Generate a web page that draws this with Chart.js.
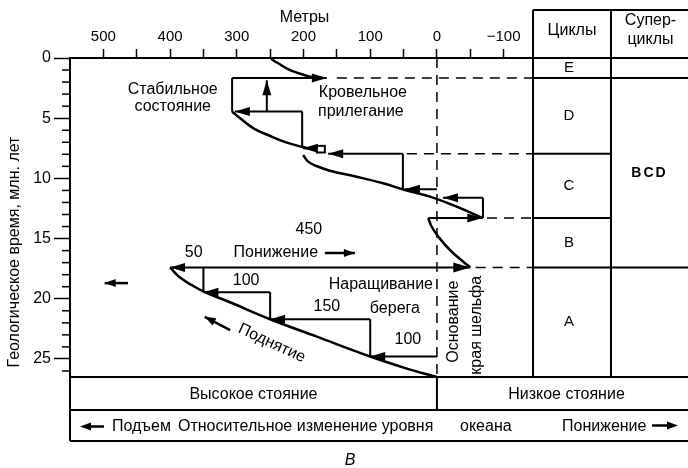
<!DOCTYPE html>
<html>
<head>
<meta charset="utf-8">
<script src="https://cdn.jsdelivr.net/npm/chart.js@4.4.1/dist/chart.umd.min.js"></script>
<style>
  html, body { margin: 0; padding: 0; background: #fff; }
  canvas { display: block; }
</style>
</head>
<body>
<canvas id="c" width="688" height="468"></canvas>
<script>
const FONT = "'Liberation Sans', Arial, Helvetica, sans-serif";

// Axes: depth in metres (top), geological time in Myr (left)
const depthTicks = [500, 450, 400, 350, 300, 250, 200, 150, 100, 50, 0, -50, -100];
const timeTicks = [0, 1, 2, 3, 4, 5, 6, 7, 8, 9, 10, 11, 12, 13, 14, 15, 16, 17, 18, 19, 20, 21, 22, 23, 24, 25, 26];
const depthRange = [-144, 550];
const timeRange = [0, 26.5];

// Cycles and supercycles (Myr boundaries)
const cycleNames = ['E', 'D', 'C', 'B', 'A'];
const cycleBounds = [0, 1.66, 7.95, 13.3, 17.4, 26.5];
const superNames = ['', 'BCD', ''];
const superBounds = [0, 1.66, 17.4, 26.5];

// Shoreline curves: [metres, Myr]
const curveE = [[249, 0], [245, 0.2], [238, 0.44], [224, 0.9], [210, 1.22], [190, 1.55], [172, 1.66]];
const curveD = [[307, 4.46], [295, 5.0], [275, 5.84], [250, 6.48], [225, 7.03], [201, 7.4], [186, 7.6]];
const curveC = [[200.5, 8.06], [193, 8.61], [180.5, 8.97], [160.5, 9.36], [120.5, 9.86], [80.5, 10.41], [48, 10.96], [10.5, 11.52], [-29.5, 12.35], [-69, 13.3]];
const curveB = [[13, 13.3], [8, 14.0], [-2, 14.84], [-19.5, 15.95], [-39.5, 16.92], [-50, 17.4]];
const curveA = [[400, 17.4], [386, 18.2], [368, 18.85], [348, 19.45], [312, 20.25], [250, 21.7], [180, 23.15], [100, 24.8], [45, 25.8], [0, 26.5]];

// Highstand staircase of cycle A: shoreline positions (m) and arrival times (Myr)
const stepLevels = [0, 100, 250, 350, 400];
const stepTimes = [24.8, 21.7, 19.45, 17.4];
// Sea-level fall at the A/B boundary: from the top of A to the shelf-edge base
const fallTop = 400;
const fallBase = -50;

// Brackets of cycles D and C: arrows [fromM, fromT, toM, toT]
const bracketArrows = [
  [307, 1.66, 165, 1.66],
  [255, 4.45, 255, 1.85],
  [202, 4.45, 303, 4.45],
  [180, 7.5, 201, 7.5],
  [51, 7.95, 163, 7.95],
  [0, 10.9, 48, 10.9],
  [-69, 11.6, -9, 11.6],
  [13, 13.3, -68, 13.3]
];
const bracketLines = [
  [[307, 1.66], [307, 4.46]],
  [[202, 4.45], [202, 7.4]],
  [[51, 7.95], [51, 10.9]],
  [[-69, 11.6], [-69, 13.3]]
];
const dashedLines = [
  [[150, 1.66], [-144, 1.66]],
  [[45, 7.95], [-144, 7.95]],
  [[-75, 13.3], [-144, 13.3]],
  [[-58, 17.4], [-144, 17.4]],
  [[0, 0], [0, 26.5]]
];
// Small pointer arrows next to the captions
const pointerArrows = [
  [168, 16.2, 123, 16.2],
  [310, 22.6, 348, 21.5],
  [463, 18.7, 498, 18.7]
];

// Captions inside the plot: [text, metres, Myr, rotation°]
const notes = [
  ['Стабильное', 396, 2.66, 0],
  ['состояние', 396, 4.07, 0],
  ['Кровельное', 111, 2.9, 0],
  ['прилегание', 114, 4.49, 0],
  ['Понижение', 241.5, 16.2, 0],
  ['Наращивание', 84, 18.85, 0],
  ['берега', 63, 20.8, 0],
  ['Основание', -25.5, 21.9, -90],
  ['края шельфа', -60, 22.2, -90],
  ['Поднятие', 247.5, 23.7, 25]
];
const stepLabelPos = [[43.5, 23.4], [165, 20.65], [286, 18.5], [364.5, 16.2]];
const fallLabelPos = [192, 14.25];

const pts = a => a.map(([x, y]) => ({ x, y }));
const lineSet = (a, w, extra) => Object.assign({
  data: pts(a), showLine: true, borderColor: '#000', borderWidth: w,
  pointRadius: 0, tension: 0, fill: false
}, extra || {});

const datasets = [];
[curveE, curveD, curveC, curveB, curveA].forEach(c => datasets.push(lineSet(c, 2.5, { tension: 0.4 })));
bracketLines.forEach(l => datasets.push(lineSet(l, 2)));
bracketArrows.forEach(a => datasets.push(lineSet([[a[0], a[1]], [a[2], a[3]]], 2)));
dashedLines.forEach(l => datasets.push(lineSet(l, 1.5, { borderDash: [10, 7] })));
pointerArrows.forEach(a => datasets.push(lineSet([[a[0], a[1]], [a[2], a[3]]], 2.5)));
// staircase of cycle A
for (let i = 0; i < stepTimes.length - 1; i++) {
  datasets.push(lineSet([[stepLevels[i], stepTimes[i]], [stepLevels[i + 1], stepTimes[i]]], 2));
  datasets.push(lineSet([[stepLevels[i + 1], stepTimes[i + 1]], [stepLevels[i + 1], stepTimes[i]]], 2));
}
datasets.push(lineSet([[fallTop, stepTimes[3]], [fallBase, stepTimes[3]]], 2));

function head(ctx, x0, y0, x1, y1, len, half) {
  const a = Math.atan2(y1 - y0, x1 - x0);
  ctx.save();
  ctx.translate(x1, y1);
  ctx.rotate(a);
  ctx.beginPath();
  ctx.moveTo(0, 0);
  ctx.lineTo(-len, -half);
  ctx.lineTo(-len, half);
  ctx.closePath();
  ctx.fill();
  ctx.restore();
}

function seg(ctx, x0, y0, x1, y1) {
  ctx.beginPath();
  ctx.moveTo(x0, y0);
  ctx.lineTo(x1, y1);
  ctx.stroke();
}

const diagram = {
  id: 'diagram',
  beforeDraw(chart) {
    const ctx = chart.ctx;
    ctx.save();
    ctx.fillStyle = '#fff';
    ctx.fillRect(0, 0, chart.width, chart.height);
    ctx.restore();
  },
  afterDatasetsDraw(chart) {
    const { ctx, scales: { x, y } } = chart;
    const X = v => x.getPixelForValue(v);
    const Y = v => y.getPixelForValue(v);
    ctx.save();
    ctx.fillStyle = '#000';
    ctx.strokeStyle = '#000';

    bracketArrows.forEach(a => head(ctx, X(a[0]), Y(a[1]), X(a[2]), Y(a[3]), 15, 4.5));
    for (let i = 0; i < stepTimes.length - 1; i++) {
      head(ctx, X(stepLevels[i]), Y(stepTimes[i]), X(stepLevels[i + 1]), Y(stepTimes[i]), 15, 4.5);
    }
    head(ctx, X(0), Y(stepTimes[3]), X(fallTop), Y(stepTimes[3]), 15, 4.5);
    head(ctx, X(100), Y(stepTimes[3]), X(fallBase), Y(stepTimes[3]), 17, 5);
    pointerArrows.forEach(a => head(ctx, X(a[0]), Y(a[1]), X(a[2]), Y(a[3]), 11, 4));

    // small open box at the top of cycle C
    ctx.lineWidth = 2;
    ctx.strokeRect(X(180), Y(7.3), X(168) - X(180), Y(7.85) - Y(7.3));

    // captions
    ctx.font = '16px ' + FONT;
    ctx.textAlign = 'center';
    ctx.textBaseline = 'middle';
    notes.forEach(([t, m, v, r]) => {
      ctx.save();
      ctx.translate(X(m), Y(v));
      ctx.rotate(r * Math.PI / 180);
      ctx.fillText(t, 0, 0);
      ctx.restore();
    });
    for (let i = 0; i < stepLabelPos.length; i++) {
      const [m, v] = stepLabelPos[i];
      ctx.fillText(String(stepLevels[i + 1] - stepLevels[i]), X(m), Y(v));
    }
    ctx.fillText(String(fallTop - fallBase), X(fallLabelPos[0]), Y(fallLabelPos[1]));
    ctx.restore();
  },
  afterDraw(chart) {
    const { ctx, chartArea: ca, scales: { x, y } } = chart;
    const Y = v => y.getPixelForValue(v);
    const W = chart.width;
    const L = ca.left, R = ca.right, T = ca.top, B = ca.bottom;
    const c1 = R + 78;
    const headTop = 10;
    const row1 = B + 33, row2 = B + 64;
    const zeroX = x.getPixelForValue(0);
    ctx.save();
    ctx.strokeStyle = '#000';
    ctx.fillStyle = '#000';

    // minor time ticks
    ctx.lineWidth = 1.5;
    timeTicks.filter(t => t % 5 !== 0).forEach(t => seg(ctx, L - 8, Y(t), L, Y(t)));

    // cycles table
    ctx.lineWidth = 2;
    seg(ctx, R, headTop, W, headTop);
    seg(ctx, R, headTop, R, B);
    seg(ctx, c1, headTop, c1, B);
    seg(ctx, R, T, W, T);
    cycleBounds.slice(1, -1).forEach(b => seg(ctx, R, Y(b), c1, Y(b)));
    superBounds.slice(1, -1).forEach(b => seg(ctx, c1, Y(b), W, Y(b)));

    // stands and sea-level rows
    seg(ctx, L, T, L, row2);
    seg(ctx, L, B, W, B);
    seg(ctx, L, row1, W, row1);
    seg(ctx, L, row2, W, row2);
    seg(ctx, zeroX, B, zeroX, row1);

    ctx.font = '16px ' + FONT;
    ctx.textAlign = 'center';
    ctx.textBaseline = 'middle';
    ctx.fillText('Циклы', (R + c1) / 2, 31);
    ctx.fillText('Супер-', (c1 + W) / 2 + 1, 21);
    ctx.fillText('циклы', (c1 + W) / 2 + 1, 40);
    ctx.font = '15px ' + FONT;
    cycleNames.forEach((n, i) => ctx.fillText(n, (R + c1) / 2 - 3, (Y(cycleBounds[i]) + Y(cycleBounds[i + 1])) / 2));
    ctx.font = 'bold 14px ' + FONT;
    if ('letterSpacing' in ctx) ctx.letterSpacing = '2px';
    superNames.forEach((n, i) => { if (n) ctx.fillText(n, (c1 + W) / 2, (Y(superBounds[i]) + Y(superBounds[i + 1])) / 2); });
    if ('letterSpacing' in ctx) ctx.letterSpacing = '0px';

    ctx.font = '16px ' + FONT;
    ctx.fillText('Высокое стояние', (L + zeroX) / 2, (B + row1) / 2 + 1);
    ctx.fillText('Низкое стояние', (zeroX + W) / 2 + 4, (B + row1) / 2 + 1);

    const yr = (row1 + row2) / 2 + 1;
    ctx.textAlign = 'left';
    ctx.fillText('Подъем', 112, yr);
    ctx.fillText('Относительное изменение уровня', 178, yr);
    ctx.fillText('океана', 460, yr);
    ctx.fillText('Понижение', 562, yr);
    ctx.lineWidth = 2.5;
    seg(ctx, 104, yr, 88, yr);
    head(ctx, 104, yr, 80, yr, 11, 4);
    seg(ctx, 652, yr - 1, 668, yr - 1);
    head(ctx, 652, yr - 1, 678, yr - 1, 11, 4);

    // axis titles
    ctx.textAlign = 'center';
    ctx.fillText('Метры', (L + R) / 2 + 3, 18);
    ctx.save();
    ctx.translate(15, 252);
    ctx.rotate(-Math.PI / 2);
    ctx.fillText('Геологическое время, млн. лет', 0, 0);
    ctx.restore();

    ctx.font = 'italic 16px ' + FONT;
    ctx.fillText('В', 350, 461);
    ctx.restore();
  }
};

new Chart(document.getElementById('c'), {
  type: 'scatter',
  data: { datasets },
  options: {
    responsive: false,
    animation: false,
    devicePixelRatio: 1,
    layout: { padding: { left: 0, top: 0, right: 155, bottom: 91 } },
    plugins: { legend: { display: false }, tooltip: { enabled: false } },
    scales: {
      x: {
        type: 'linear',
        position: 'top',
        min: depthRange[0],
        max: depthRange[1],
        reverse: true,
        afterBuildTicks: s => { s.ticks = depthTicks.map(v => ({ value: v })); },
        afterFit: s => { s.height = 58; },
        grid: { drawOnChartArea: false, drawTicks: true, tickLength: 9, tickColor: '#000', tickWidth: 1.5 },
        border: { display: true, color: '#000', width: 2 },
        ticks: {
          color: '#000', font: { family: FONT, size: 15 }, padding: 3,
          maxRotation: 0, autoSkip: false,
          callback: v => (v % 100 === 0 ? (v < 0 ? '\u2212' + Math.abs(v) : String(v)) : '')
        }
      },
      y: {
        type: 'linear',
        position: 'left',
        min: timeRange[0],
        max: timeRange[1],
        reverse: true,
        afterBuildTicks: s => { s.ticks = timeTicks.map(v => ({ value: v })); },
        afterFit: s => { s.width = 70; },
        grid: {
          drawOnChartArea: false, drawTicks: true, tickLength: 16, tickWidth: 1.5,
          tickColor: c => (c.tick && c.tick.value % 5 === 0 ? '#000' : 'rgba(0,0,0,0)')
        },
        border: { display: true, color: '#000', width: 2 },
        ticks: {
          color: '#000', font: { family: FONT, size: 16 }, padding: 3, autoSkip: false,
          callback: v => (v % 5 === 0 ? String(v) : '')
        }
      }
    }
  },
  plugins: [diagram]
});
</script>
</body>
</html>
